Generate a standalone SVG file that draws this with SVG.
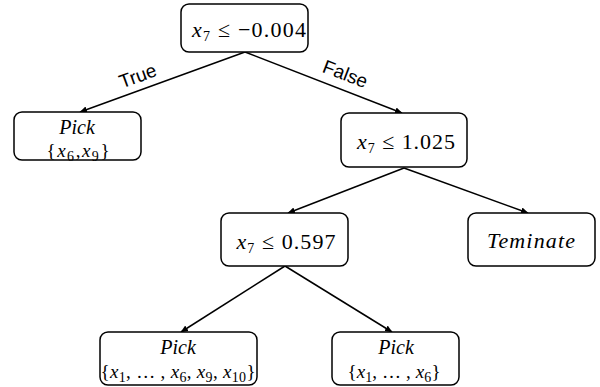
<svg xmlns="http://www.w3.org/2000/svg" width="600" height="387" viewBox="0 0 600 387">
<defs>
<marker id="ah" markerWidth="8" markerHeight="8" refX="7" refY="4" orient="auto" markerUnits="userSpaceOnUse">
<path d="M0,0.8 L7.5,4 L0,7.2 Z" fill="#000"/>
</marker>
<style>
.box{fill:#fff;stroke:#000;stroke-width:1.5}
.m{font-family:"Liberation Serif","DejaVu Serif",serif;font-size:22px;fill:#000;text-anchor:middle}
.p{font-size:20px}
.st{font-size:19px}
.i{font-style:italic}
.s{font-size:14px}
.lbl{font-family:"Liberation Sans","Open Sans",sans-serif;font-size:19px;fill:#000;text-anchor:middle}
.c{stroke:#000;stroke-width:1.5;fill:none;marker-end:url(#ah)}
</style>
</defs>
<rect width="600" height="387" fill="#fff"/>
<g id="connectors">
<line class="c" x1="245" y1="52" x2="80" y2="112"/>
<line class="c" x1="245" y1="52" x2="402" y2="113"/>
<line class="c" x1="404" y1="168" x2="288" y2="213"/>
<line class="c" x1="404" y1="168" x2="528" y2="213"/>
<line class="c" x1="285" y1="266" x2="181" y2="332"/>
<line class="c" x1="285" y1="266" x2="392" y2="332"/>
<text class="lbl" transform="translate(140,82) rotate(-20)">True</text>
<text class="lbl" transform="translate(343,80) rotate(21)">False</text>
</g>
<g id="root">
<rect class="box" x="181" y="4" width="127" height="48" rx="8"/>
<text class="m" x="249" y="37" textLength="114" lengthAdjust="spacing"><tspan class="i">x</tspan><tspan class="s" dy="4">7</tspan><tspan dy="-4"> ≤ −0.004</tspan></text>
</g>
<g id="pick1">
<rect class="box" x="14" y="112" width="127" height="48" rx="8"/>
<text class="m p i" x="77" y="134">Pick</text>
<text class="m st" x="78" y="157" textLength="63" lengthAdjust="spacing">{<tspan class="i">x</tspan><tspan class="s" dy="4">6</tspan><tspan dy="-4">,</tspan><tspan class="i">x</tspan><tspan class="s" dy="4">9</tspan><tspan dy="-4">}</tspan></text>
</g>
<g id="n1025">
<rect class="box" x="341" y="113" width="126" height="54" rx="8"/>
<text class="m" x="406" y="149" textLength="98" lengthAdjust="spacing"><tspan class="i">x</tspan><tspan class="s" dy="4">7</tspan><tspan dy="-4"> ≤ 1.025</tspan></text>
</g>
<g id="n0597">
<rect class="box" x="221" y="213" width="127" height="53" rx="8"/>
<text class="m" x="286" y="249" textLength="99" lengthAdjust="spacing"><tspan class="i">x</tspan><tspan class="s" dy="4">7</tspan><tspan dy="-4"> ≤ 0.597</tspan></text>
</g>
<g id="terminate">
<rect class="box" x="468" y="213" width="127" height="53" rx="8"/>
<text class="m i" x="531" y="248" textLength="88" lengthAdjust="spacing">Teminate</text>
</g>
<g id="pick2">
<rect class="box" x="100" y="332" width="157" height="53" rx="8"/>
<text class="m p i" x="178" y="354">Pick</text>
<text class="m st" x="178" y="378" textLength="155" lengthAdjust="spacing">{<tspan class="i">x</tspan><tspan class="s" dy="4">1</tspan><tspan dy="-4">, … , </tspan><tspan class="i">x</tspan><tspan class="s" dy="4">6</tspan><tspan dy="-4">, </tspan><tspan class="i">x</tspan><tspan class="s" dy="4">9</tspan><tspan dy="-4">, </tspan><tspan class="i">x</tspan><tspan class="s" dy="4">10</tspan><tspan dy="-4">}</tspan></text>
</g>
<g id="pick3">
<rect class="box" x="332" y="332" width="127" height="53" rx="8"/>
<text class="m p i" x="396" y="354">Pick</text>
<text class="m st" x="394" y="378" textLength="93" lengthAdjust="spacing">{<tspan class="i">x</tspan><tspan class="s" dy="4">1</tspan><tspan dy="-4">, … , </tspan><tspan class="i">x</tspan><tspan class="s" dy="4">6</tspan><tspan dy="-4">}</tspan></text>
</g>
</svg>
